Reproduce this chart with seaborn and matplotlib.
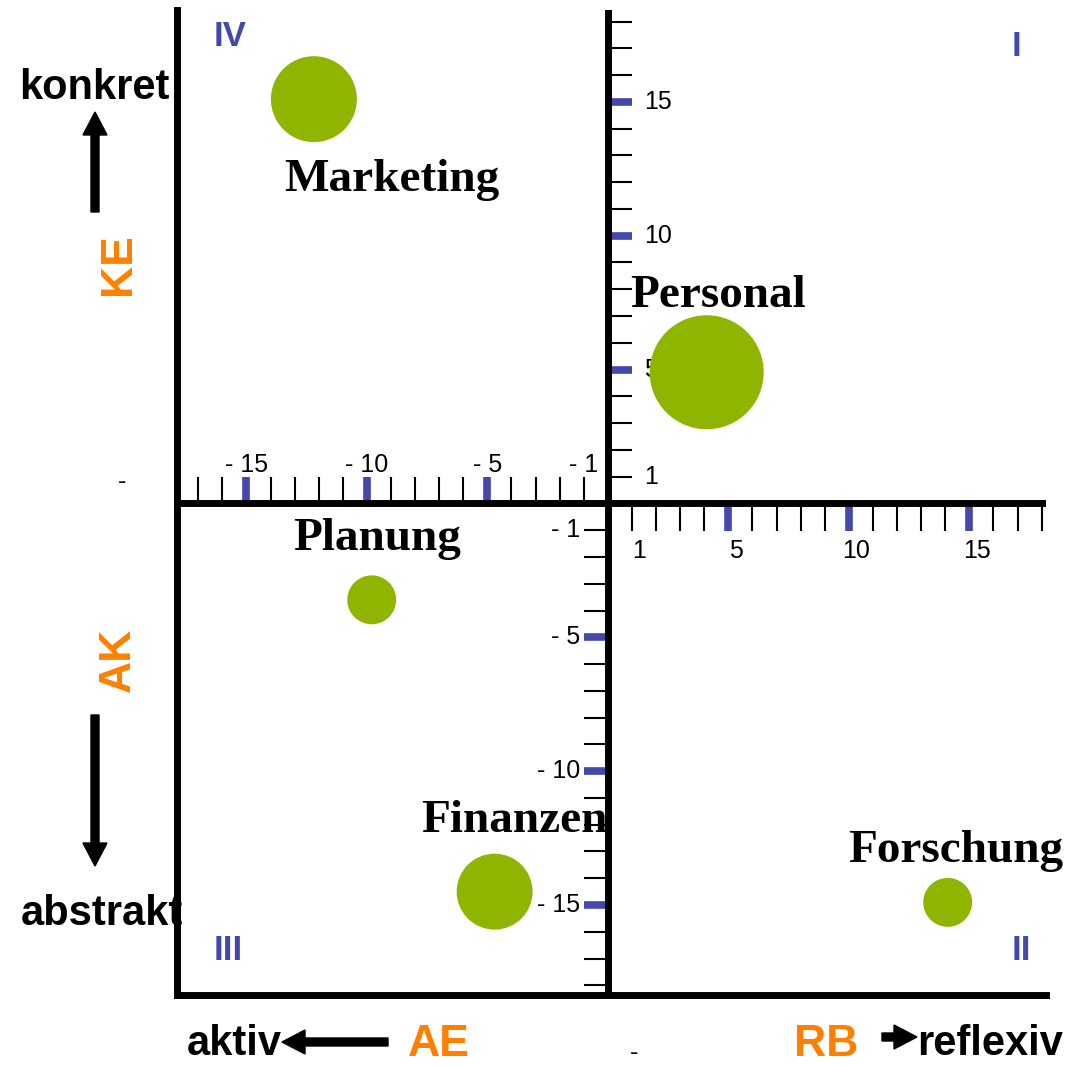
import numpy as np
import pandas as pd
import matplotlib.pyplot as plt
import seaborn as sns

sns.set_style("white")
plt.rcParams['font.family'] = ['Liberation Sans', 'DejaVu Sans']
plt.rcParams['text.color'] = 'black'

# data
abteilungen = ["Marketing", "Personal", "Planung", "Finanzen", "Forschung"]
x_werte = [-12.2, 4.1, -9.8, -4.7, 14.1]
y_werte = [15.1, 4.9, -3.6, -14.5, -14.9]
groesse = [3830, 6740, 1240, 2990, 1240]

x_ticks_neg = list(range(-1, -18, -1))
x_ticks_pos = list(range(1, 19))
y_ticks_pos = list(range(1, 19))
y_ticks_neg = list(range(-1, -19, -1))
major = [5, 10, 15]
x_labels_neg = [-15, -10, -5, -1]
x_labels_pos = [1, 5, 10, 15]
y_labels_pos = [1, 5, 10, 15]
y_labels_neg = [-1, -5, -10, -15]
quadranten = ["I", "II", "III", "IV"]

df = pd.DataFrame({"Abteilung": abteilungen, "x": x_werte, "y": y_werte, "s": groesse})

W, H = 1068, 1067
GREEN = "#8fb500"
BLUE = "#4448aa"
ORANGE = "#ff8000"

fig = plt.figure(figsize=(W / 100, H / 100), dpi=100)
ax = fig.add_axes([177 / W, 1 - 995 / H, (1046 - 177) / W, (995 - 10) / H])
ax.set_xlim(-17.88, 18.18)
ax.set_ylim(-18.36, 18.43)
ax.set_xticks([])
ax.set_yticks([])
for side in ["top", "right"]:
    ax.spines[side].set_visible(False)
for side in ["left", "bottom"]:
    ax.spines[side].set_linewidth(5)
    ax.spines[side].set_color("black")
    ax.spines[side].set_zorder(5)

# cross lines
ax.axvline(0, color="black", lw=5, zorder=5)
ax.axhline(0, color="black", lw=5, zorder=5)

# tick marks
def tick_set(vals, orient, lo, hi):
    minor = [v for v in vals if abs(v) not in major]
    big = [v for v in vals if abs(v) in major]
    if orient == "v":
        ax.vlines(minor, lo, hi, color="black", lw=1.5, zorder=4)
        ax.vlines(big, lo, hi, color=BLUE, lw=5.5, zorder=4)
    else:
        ax.hlines(minor, lo, hi, color="black", lw=1.5, zorder=4)
        ax.hlines(big, lo, hi, color=BLUE, lw=5.5, zorder=4)

tick_set(x_ticks_neg, "v", 0, 0.97)
tick_set(x_ticks_pos, "v", -1.03, 0)
tick_set(y_ticks_pos, "h", 0, 1.0)
tick_set(y_ticks_neg, "h", -1.0, 0)

tfs = 18
for v in x_labels_neg:
    ax.text(v, 1.18, "- %d" % abs(v), ha="center", va="baseline", fontsize=tfs, zorder=1)
for v in x_labels_pos:
    ax.text(v + 0.3, -2.04, "%d" % v, ha="center", va="baseline", fontsize=tfs, zorder=1)
for v in y_labels_pos:
    ax.text(1.5, v, "%d" % v, ha="left", va="center", fontsize=tfs, zorder=1)
for v in y_labels_neg:
    ax.text(-1.15, v, "- %d" % abs(v), ha="right", va="center", fontsize=tfs, zorder=1)

# bubbles
sns.scatterplot(data=df, x="x", y="y", s=df["s"].values, color=GREEN,
                edgecolor="none", linewidth=0, ax=ax, zorder=3, legend=False)
ax.set_xlabel("")
ax.set_ylabel("")

offsets = [(77.5, -92), (11.5, 65), (5.5, 50), (20, 60), (8.5, 40)]
for name, xv, yv, off in zip(abteilungen, x_werte, y_werte, offsets):
    ax.annotate(name, (xv, yv), xytext=off, textcoords="offset pixels",
                ha="center", va="baseline", fontsize=34, fontweight="bold",
                family="Liberation Serif", color="black", zorder=2)

# quadrant numerals
def fxy(x, y):
    return x / W, 1 - y / H

q_pos = [(1017, 46), (1021, 951), (228, 951), (230, 36)]
for q, (px, py) in zip(quadranten, q_pos):
    ax.text(*fxy(px, py), q, transform=fig.transFigure, ha="center", va="center",
            fontsize=25, fontweight="bold", color=BLUE, clip_on=False, zorder=2)

# outer labels
def outer(px, py, s, color="black", size=30, **kw):
    ax.text(*fxy(px, py), s, transform=fig.transFigure, color=color, fontsize=size,
            fontweight="bold", clip_on=False, zorder=1, **kw)

outer(94.5, 99, "konkret", ha="center", va="baseline")
outer(102, 925, "abstrakt", ha="center", va="baseline")
outer(234, 1055, "aktiv", ha="center", va="baseline")
outer(990, 1055, "reflexiv", ha="center", va="baseline")
outer(118.5, 264, "KE", ORANGE, 32, ha="center", va="center", rotation=90)
outer(118, 660, "AK", ORANGE, 32, ha="center", va="center", rotation=90)
outer(439, 1056, "AE", ORANGE, 32, ha="center", va="baseline")
outer(826, 1056, "RB", ORANGE, 32, ha="center", va="baseline")
ax.text(*fxy(122, 482), "-", transform=fig.transFigure, fontsize=18, ha="center",
        va="center", clip_on=False, color="black")
ax.text(*fxy(634, 1053), "-", transform=fig.transFigure, fontsize=18, ha="center",
        va="center", clip_on=False, color="black")

# arrows
def arrow(x0, y0, x1, y1):
    a, b = fxy(x0, y0)
    c, d = fxy(x1, y1)
    ax.arrow(a, b, c - a, d - b, width=8 / W, head_width=24 / W, head_length=23 / W,
             length_includes_head=True, transform=fig.transFigure, clip_on=False,
             color="black", zorder=1)

arrow(95, 212, 95, 112)
arrow(95, 715, 95, 866)
arrow(388, 1042, 282, 1042)
arrow(882, 1037, 917, 1037)

fig.savefig("out.png", dpi=100)
